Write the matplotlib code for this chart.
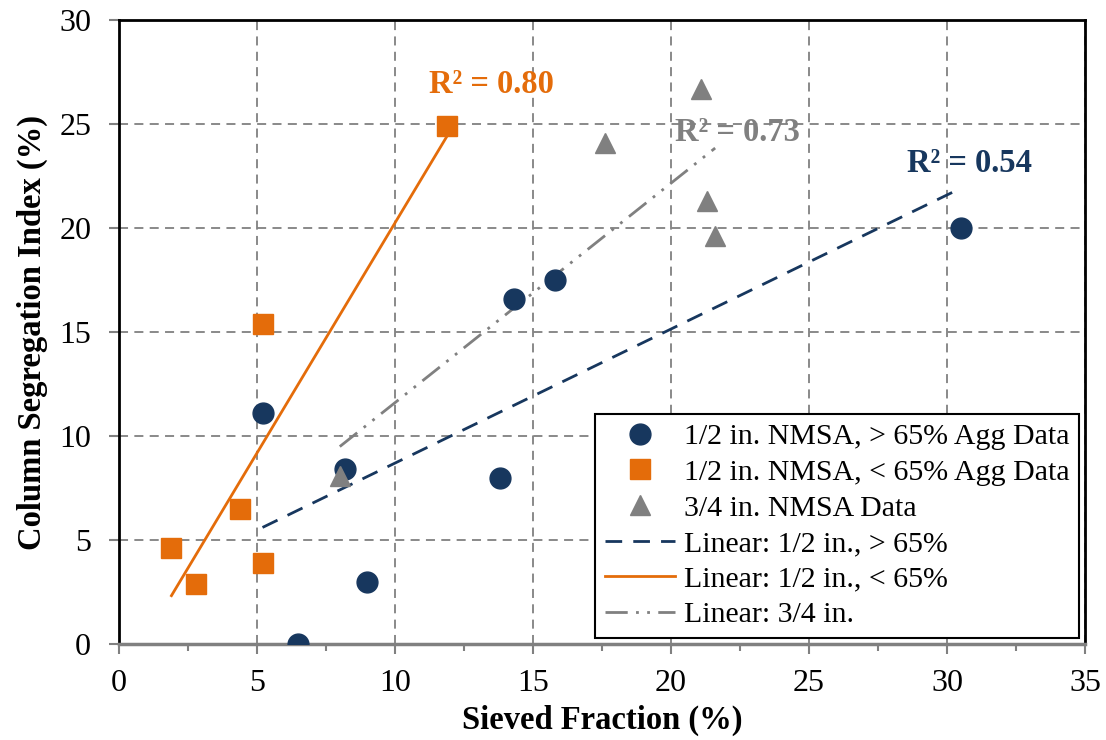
import numpy as np
import matplotlib.pyplot as plt
from matplotlib.ticker import MultipleLocator

plt.rcParams['font.family'] = ['Liberation Serif', 'DejaVu Serif']

# 1/2 in. NMSA, > 65% agg
x_hi = [6.5, 9.0, 5.2, 8.2, 13.8, 14.3, 15.8, 30.5]
y_hi = [0.0, 3.0, 11.1, 8.4, 8.0, 16.6, 17.5, 20.0]
# 1/2 in. NMSA, < 65% agg
x_lo = [1.9, 2.8, 4.4, 5.2, 5.2, 11.9]
y_lo = [4.6, 2.9, 6.5, 3.9, 15.4, 24.9]
# 3/4 in. NMSA
x_34 = [8.0, 17.6, 21.1, 21.3, 21.6]
y_34 = [8.1, 24.1, 26.7, 21.3, 19.6]

r2_labels = ['R² = 0.54', 'R² = 0.80', 'R² = 0.73']
r2_pos = [(30.8, 23.1), (13.5, 26.9), (22.4, 24.6)]

c_blue = '#17375E'
c_orange = '#E46C0A'
c_gray = '#808080'

fig = plt.figure(figsize=(11.06, 7.40), dpi=100)
ax = fig.add_axes([0.1076, 0.1297, 0.8734, 0.8433])

def trend(x, y):
    m, b = np.polyfit(x, y, 1)
    xs = np.array([min(x), max(x)])
    return xs, m * xs + b

ax.plot(x_hi, y_hi, 'o', color=c_blue, ms=15, zorder=4, label='1/2 in. NMSA, > 65% Agg Data')
ax.plot(x_lo, y_lo, 's', color=c_orange, ms=15, zorder=4, label='1/2 in. NMSA, < 65% Agg Data')
ax.plot(x_34, y_34, '^', color=c_gray, ms=15, zorder=4, label='3/4 in. NMSA Data')

xs, ys = trend(x_hi, y_hi)
ax.plot(xs, ys, color=c_blue, lw=2, ls=(0, (6, 4)), zorder=3, label='Linear: 1/2 in., > 65%')
xs, ys = trend(x_lo, y_lo)
ax.plot(xs, ys, color=c_orange, lw=2, zorder=3, label='Linear: 1/2 in., < 65%')
xs, ys = trend(x_34, y_34)
ax.plot(xs, ys, color=c_gray, lw=2, ls=(0, (8, 3, 1, 3, 1, 3)), zorder=3, label='Linear: 3/4 in.')

for txt, (px, py), c in zip(r2_labels, r2_pos, [c_blue, c_orange, c_gray]):
    ax.text(px, py, txt, color=c, fontsize=23.5, fontweight='bold', ha='center', va='center')

ax.set_xlim(0, 35)
ax.set_ylim(0, 30)
ax.xaxis.set_major_locator(MultipleLocator(5))
ax.xaxis.set_minor_locator(MultipleLocator(2.5))
ax.yaxis.set_major_locator(MultipleLocator(5))
ax.grid(True, color=c_gray, ls=(0, (5, 3.5)), lw=1.3)
ax.set_axisbelow(True)

ax.tick_params(axis='both', which='major', labelsize=23, color=c_gray, width=1.5, length=7)
ax.tick_params(axis='x', which='minor', color=c_gray, width=1.5, length=5)
ax.tick_params(axis='x', pad=11)
ax.tick_params(axis='y', pad=13)

for s in ['top', 'right', 'left']:
    ax.spines[s].set_color('black')
    ax.spines[s].set_linewidth(2)
ax.spines['bottom'].set_color(c_gray)
ax.spines['bottom'].set_linewidth(2.5)

ax.set_xlabel('Sieved Fraction (%)', fontsize=23.5, fontweight='bold', labelpad=5)
ax.set_ylabel('Column Segregation Index (%)', fontsize=23.5, fontweight='bold', labelpad=8)

leg = ax.legend(loc='lower right', fontsize=21.5, frameon=True, fancybox=False,
                borderaxespad=0.2, labelspacing=0.29, handlelength=2.35,
                handletextpad=0.27, borderpad=0.33)
leg.get_frame().set_edgecolor('black')
leg.get_frame().set_linewidth(1.5)
leg.get_frame().set_alpha(1)

fig.savefig('out.png', dpi=100)
